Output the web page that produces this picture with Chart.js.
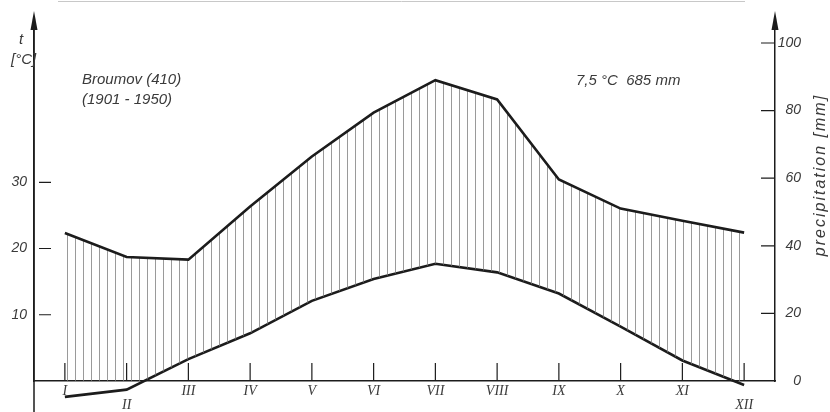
<!DOCTYPE html>
<html>
<head>
<meta charset="utf-8">
<script src="https://cdn.jsdelivr.net/npm/chart.js"></script>
<style>
  body { margin: 0; background: #ffffff; }
  #box { width: 830px; height: 412px; position: relative; }
</style>
</head>
<body>
<div id="box"><canvas id="climatCanvas"></canvas></div>
<script>
const mois = ['I', 'II', 'III', 'IV', 'V', 'VI', 'VII', 'VIII', 'IX', 'X', 'XI', 'XII'];
const temperature = [-2.4, -1.3, 3.3, 7.2, 12.1, 15.4, 17.7, 16.4, 13.2, 8.2, 3.1, -0.6];
const precipitation = [43.8, 36.7, 35.9, 51.6, 66.4, 79.4, 89.0, 83.3, 59.6, 51.0, 47.4, 43.9];
const ticksTemp = [10, 20, 30];
const ticksPrecip = [0, 20, 40, 60, 80, 100];

const couleurTrait = '#1c1c1c';
const couleurTexte = '#3a3a3a';
const policeTexte = '"Liberation Sans", sans-serif';
const policeChiffres = '"Liberation Sans Narrow", "Liberation Sans", sans-serif';

// Motif de hachures verticales pour la période humide
function motifHachures() {
    const c = document.createElement('canvas');
    c.width = 8;
    c.height = 8;
    const g = c.getContext('2d');
    g.fillStyle = 'rgba(120,120,120,0.75)';
    g.fillRect(3, 0, 1, 8);
    return g.createPattern(c, 'repeat');
}

// Traits des axes, flèches et textes du diagramme
const dessinDiagramme = {
    id: 'dessinDiagramme',
    afterDraw(chart) {
        const ctx = chart.ctx;
        const area = chart.chartArea;
        const sx = chart.scales.x;
        const sy = chart.scales.y;
        const sy2 = chart.scales.y2;
        const base = sy.getPixelForValue(0);
        ctx.save();
        ctx.strokeStyle = couleurTrait;
        ctx.fillStyle = couleurTrait;
        ctx.lineWidth = 1.5;

        // axe gauche prolongé vers le bas et vers la flèche
        ctx.beginPath();
        ctx.moveTo(area.left, 26);
        ctx.lineTo(area.left, chart.height);
        ctx.moveTo(area.right, 26);
        ctx.lineTo(area.right, area.top);
        ctx.stroke();

        // flèches en haut des deux axes
        [area.left, area.right].forEach(function (x) {
            ctx.beginPath();
            ctx.moveTo(x, 11);
            ctx.lineTo(x - 3.5, 30);
            ctx.lineTo(x + 3.5, 30);
            ctx.closePath();
            ctx.fill();
        });

        // petits traits des graduations (à l'intérieur)
        ctx.lineWidth = 1.2;
        ctx.beginPath();
        ticksTemp.forEach(function (v) {
            const y = sy.getPixelForValue(v);
            ctx.moveTo(area.left + 5, y);
            ctx.lineTo(area.left + 17, y);
        });
        ticksPrecip.forEach(function (v) {
            if (v === 0) return;
            const y = sy2.getPixelForValue(v);
            ctx.moveTo(area.right - 14, y);
            ctx.lineTo(area.right - 1, y);
        });
        mois.forEach(function (m, i) {
            const x = sx.getPixelForTick(i);
            ctx.moveTo(x, base);
            ctx.lineTo(x, base - 18);
        });
        ctx.stroke();

        // bord du scan en haut
        ctx.strokeStyle = '#c8c8c8';
        ctx.lineWidth = 1;
        ctx.beginPath();
        ctx.moveTo(58, 1.5);
        ctx.lineTo(745, 1.5);
        ctx.stroke();

        // textes
        ctx.fillStyle = couleurTexte;
        ctx.textBaseline = 'middle';
        ctx.textAlign = 'left';
        ctx.font = 'italic 15px ' + policeTexte;
        ctx.fillText('t', 19, 40);
        ctx.font = 'italic 15px ' + policeChiffres;
        ctx.fillText('[°C]', 11, 60);
        ctx.font = 'italic 15px ' + policeTexte;
        ctx.fillText('Broumov (410)', 82, 80);
        ctx.fillText('(1901 - 1950)', 82, 100);
        ctx.fillText('7,5 °C  685 mm', 576, 81);

        // titre de l'axe de droite, écrit de bas en haut
        ctx.translate(821, 175);
        ctx.rotate(-Math.PI / 2);
        ctx.textAlign = 'center';
        ctx.font = 'italic 16px ' + policeTexte;
        ctx.letterSpacing = '2px';
        ctx.fillText('precipitation [mm]', 0, 0);
        ctx.restore();
    }
};

const ctx = document.getElementById('climatCanvas').getContext('2d');
new Chart(ctx, {
    type: 'line',
    data: {
        labels: mois,
        datasets: [
            {
                label: 'precipitation',
                data: precipitation,
                yAxisID: 'y2',
                borderColor: couleurTrait,
                borderWidth: 2.6,
                pointRadius: 0,
                tension: 0,
                fill: { target: 1, above: motifHachures(), below: motifHachures() }
            },
            {
                label: 'temperature',
                data: temperature,
                yAxisID: 'y',
                borderColor: couleurTrait,
                borderWidth: 2.6,
                pointRadius: 0,
                tension: 0,
                clip: false,
                fill: false
            }
        ]
    },
    options: {
        responsive: true,
        maintainAspectRatio: false,
        animation: false,
        layout: { padding: { top: 20, left: 0, right: 29, bottom: 0 } },
        plugins: {
            legend: { display: false },
            tooltip: { enabled: false }
        },
        scales: {
            x: {
                offset: true,
                grid: { display: false, drawTicks: false },
                border: { display: true, color: couleurTrait, width: 1.5 },
                afterFit: function (scale) { scale.height = 31; },
                ticks: {
                    padding: 3,
                    maxRotation: 0,
                    autoSkip: false,
                    color: couleurTexte,
                    font: { family: '"Liberation Serif", serif', style: 'italic', size: 14, lineHeight: 1 },
                    // les mois II et XII sont écrits plus bas, sous la courbe
                    callback: function (value, index) {
                        const lbl = this.getLabelForValue(value);
                        return (index === 1 || index === 11) ? ['', lbl] : lbl;
                    }
                }
            },
            y: {
                position: 'left',
                min: 0,
                max: 54.5,
                grid: { display: false, drawTicks: false },
                border: { display: true, color: couleurTrait, width: 1.5 },
                afterFit: function (scale) { scale.width = 34; },
                ticks: {
                    stepSize: 10,
                    padding: 7,
                    color: couleurTexte,
                    font: { family: policeChiffres, style: 'italic', size: 14 },
                    callback: function (v) { return ticksTemp.includes(v) ? String(v) : null; }
                }
            },
            y2: {
                position: 'right',
                min: 0,
                max: 106.8,
                grid: { display: false, drawTicks: false },
                border: { display: true, color: couleurTrait, width: 1.5 },
                afterFit: function (scale) { scale.width = 26; },
                ticks: {
                    stepSize: 20,
                    padding: 5,
                    crossAlign: 'far',
                    color: couleurTexte,
                    font: { family: policeChiffres, style: 'italic', size: 14 },
                    callback: function (v) { return ticksPrecip.includes(v) ? String(v) : null; }
                }
            }
        }
    },
    plugins: [dessinDiagramme]
});
</script>
</body>
</html>
